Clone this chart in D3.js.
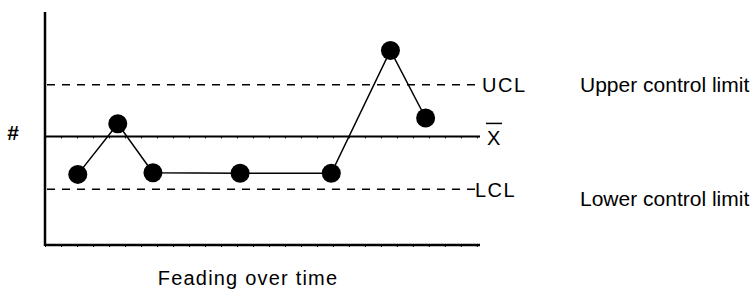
<!DOCTYPE html>
<html>
<head>
<meta charset="utf-8">
<script src="https://cdn.jsdelivr.net/npm/d3@7"></script>
<style>
  body { margin: 0; background: #fff; }
  svg { display: block; }
  text { font-family: "Liberation Sans", Arial, sans-serif; fill: #000; }
</style>
</head>
<body>
<div id="chart"></div>
<script>
// readings over time (x in time units, y in count units)
var readingTimes  = [2.05, 4.55, 6.75, 12.2, 17.9, 21.6, 23.8];
var readingValues = [3.03, 5.2, 3.1, 3.08, 3.08, 8.35, 5.45];

// control lines
var meanValue = 4.66;
var uclValue  = 6.88;
var lclValue  = 2.39;

var limitLabels = ["Upper control limit", "Lower control limit"];
var xTitle = "Feading over time";
var yTitle = "#";

var width = 755, height = 290;

var svg = d3.select("#chart").append("svg")
    .attr("width", width)
    .attr("height", height);

// scales
var x = d3.scaleLinear().domain([0, 27.2]).range([45, 480]);
var y = d3.scaleLinear().domain([0, 10]).range([245, 12]);

// tiny ticks under the mean line and the time axis
var tickAxis = d3.axisBottom(x)
    .ticks(27)
    .tickSize(2)
    .tickFormat("");

[meanValue, 0].forEach(function(v){
    var g = svg.append("g")
        .attr("transform", "translate(0," + y(v) + ")")
        .call(tickAxis);
    g.select(".domain").remove();
    g.selectAll(".tick line").attr("stroke", "#000").attr("stroke-width", 1);
});

// axes
svg.append("line")
    .attr("x1", x(0)).attr("x2", x(0))
    .attr("y1", y(10)).attr("y2", y(0) + 1)
    .attr("stroke", "#000").attr("stroke-width", 2.5);
svg.append("line")
    .attr("x1", x(0)).attr("x2", x(27.2))
    .attr("y1", y(0)).attr("y2", y(0))
    .attr("stroke", "#000").attr("stroke-width", 2.5);

// mean line
svg.append("line")
    .attr("x1", x(0)).attr("x2", x(27.2))
    .attr("y1", y(meanValue)).attr("y2", y(meanValue))
    .attr("stroke", "#000").attr("stroke-width", 2);

// control limits
[uclValue, lclValue].forEach(function(v){
    svg.append("line")
        .attr("x1", x(0) + 2).attr("x2", x(27.2))
        .attr("y1", y(v)).attr("y2", y(v))
        .attr("stroke", "#000").attr("stroke-width", 1.5)
        .attr("stroke-dasharray", "8,7");
});

// reading line and points
var data = readingTimes.map(function(t, i){ return {t: t, v: readingValues[i]}; });

var line = d3.line()
    .x(function(d){ return x(d.t); })
    .y(function(d){ return y(d.v); });

svg.append("path")
    .datum(data)
    .attr("d", line)
    .attr("fill", "none")
    .attr("stroke", "#000")
    .attr("stroke-width", 1.5);

svg.selectAll("circle")
    .data(data)
    .enter()
    .append("circle")
    .attr("cx", function(d){ return x(d.t); })
    .attr("cy", function(d){ return y(d.v); })
    .attr("r", 9.5)
    .attr("fill", "#000");

// line labels
svg.append("text")
    .attr("x", 482).attr("y", y(uclValue))
    .attr("dy", "0.36em")
    .style("font-size", "20px")
    .style("letter-spacing", "1.5px")
    .text("UCL");
svg.append("text")
    .attr("x", 475).attr("y", y(lclValue))
    .attr("dy", "0.36em")
    .style("font-size", "20px")
    .style("letter-spacing", "1.5px")
    .text("LCL");
svg.append("text")
    .attr("x", 487).attr("y", y(meanValue) + 1)
    .attr("dy", "0.36em")
    .style("font-size", "20px")
    .text("X");
svg.append("line")
    .attr("x1", 486).attr("x2", 502)
    .attr("y1", y(meanValue) - 13).attr("y2", y(meanValue) - 13)
    .attr("stroke", "#000").attr("stroke-width", 1.5);

svg.append("text")
    .attr("x", 580).attr("y", y(uclValue))
    .attr("dy", "0.36em")
    .style("font-size", "21px")
    .text(limitLabels[0]);
svg.append("text")
    .attr("x", 580).attr("y", y(lclValue) + 9)
    .attr("dy", "0.36em")
    .style("font-size", "21px")
    .text(limitLabels[1]);

// axis titles
svg.append("text")
    .attr("x", 13).attr("y", y(meanValue) - 4)
    .attr("dy", "0.36em")
    .attr("text-anchor", "middle")
    .style("font-size", "21px")
    .style("font-weight", "bold")
    .text(yTitle);
svg.append("text")
    .attr("x", 248).attr("y", 285)
    .attr("text-anchor", "middle")
    .style("font-size", "20px")
    .style("letter-spacing", "1.2px")
    .text(xTitle);
</script>
</body>
</html>
